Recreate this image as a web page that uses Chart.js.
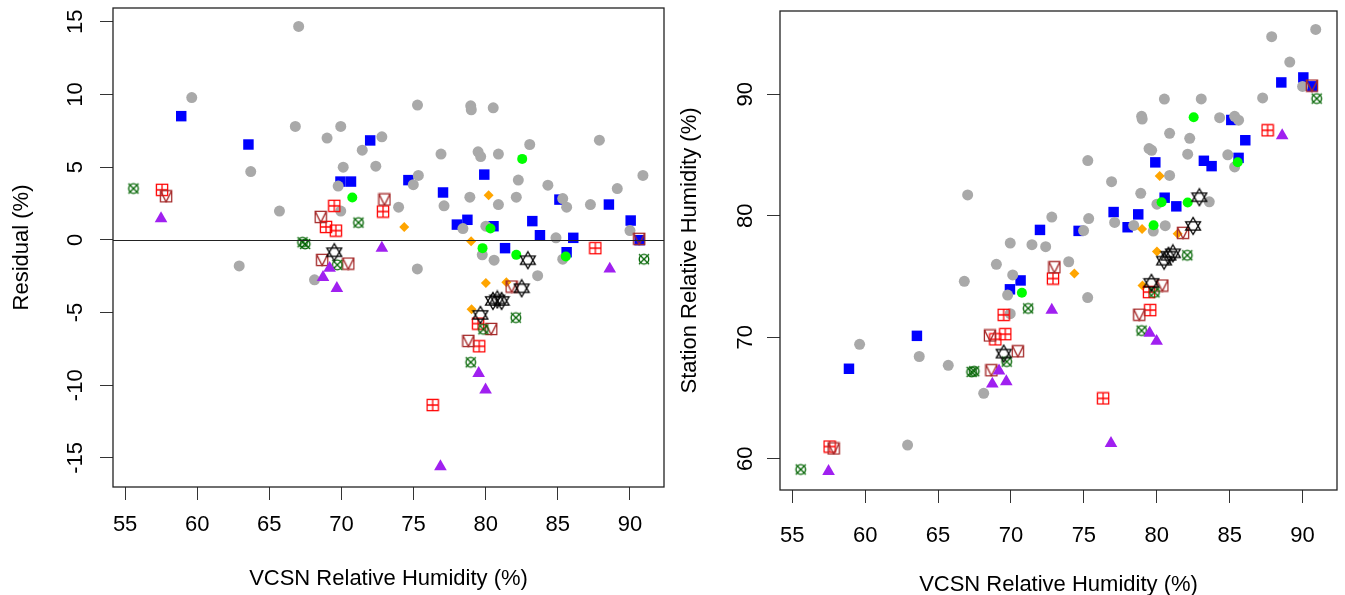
<!DOCTYPE html>
<html>
<head>
<meta charset="utf-8">
<script src="https://cdn.jsdelivr.net/npm/chart.js@4.4.0/dist/chart.umd.min.js"></script>
<style>
  html, body { margin: 0; padding: 0; background: #fff; overflow: hidden; }
  canvas { position: absolute; top: 0; }
  #left { left: 0; }
  #right { left: 672px; }
</style>
</head>
<body>
<canvas id="left" width="672" height="595"></canvas>
<canvas id="right" width="673" height="595"></canvas>
<script>
// tick labels
const xTicks = [55, 60, 65, 70, 75, 80, 85, 90];
const residTicks = [-15, -10, -5, 0, 5, 10, 15];
const stationTicks = [60, 70, 80, 90];

// grey circles
const greyVcsn = [67.03, 59.62, 66.8, 69.95, 69.0, 72.8, 71.44, 70.12, 72.38, 63.71, 69.77, 65.7, 69.95, 62.91, 68.13, 73.96,
  75.27, 75.33, 74.98, 78.96, 79.0, 80.52, 76.9, 79.47, 79.65, 80.88, 83.05, 87.88, 82.26, 84.31, 90.9, 89.12,
  78.9, 82.12, 77.11, 80.88, 85.34, 85.61, 87.26, 78.42, 80.01, 84.87, 90.0, 79.76, 80.58, 75.26, 83.6, 85.34];
const greyResid = [14.68, 9.79, 7.8, 7.8, 7.0, 7.09, 6.17, 5.0, 5.07, 4.7, 3.7, 1.98, 1.98, -1.79, -2.75, 2.25,
  9.27, 4.43, 3.8, 9.22, 8.95, 9.08, 5.9, 6.06, 5.73, 5.9, 6.56, 6.86, 4.11, 3.76, 4.43, 3.53,
  2.94, 2.94, 2.34, 2.43, 2.84, 2.25, 2.43, 0.78, 0.94, 0.14, 0.64, -1.03, -1.4, -2.0, -2.46, -1.33];
const greyStation = [81.71, 69.41, 74.6, 77.75, 76.0, 79.89, 77.61, 75.12, 77.45, 68.41, 73.47, 67.68, 71.93, 61.12, 65.38, 76.21,
  84.54, 79.76, 78.78, 88.18, 87.95, 89.6, 82.8, 85.53, 85.38, 86.78, 89.61, 94.74, 86.37, 88.07, 95.33, 92.65,
  81.84, 85.06, 79.45, 83.31, 88.18, 87.86, 89.69, 79.2, 80.95, 85.01, 90.64, 78.73, 79.18, 73.26, 81.14, 84.01];

// blue squares
const blueVcsn = [58.89, 63.55, 71.99, 69.93, 70.66, 74.64, 79.9, 77.04, 88.54, 85.11, 78.73, 78.0, 80.54, 83.23, 90.05, 83.76, 86.07, 90.67, 81.34, 85.61];
const blueResid = [8.51, 6.56, 6.84, 4.01, 4.01, 4.11, 4.49, 3.26, 2.43, 2.77, 1.38, 1.05, 0.94, 1.29, 1.33, 0.32, 0.14, -0.02, -0.57, -0.85];
const blueStation = [67.4, 70.11, 78.83, 73.94, 74.67, 78.75, 84.39, 80.3, 90.97, 87.88, 80.11, 79.05, 81.48, 84.52, 91.38, 84.08, 86.21, 90.65, 80.77, 84.76];

// green circles
const greenVcsn = [70.75, 82.53, 80.33, 79.78, 82.12, 85.55];
const greenResid = [2.91, 5.57, 0.78, -0.57, -1.03, -1.15];
const greenStation = [73.66, 88.1, 81.11, 79.21, 81.09, 84.4];

// orange diamonds
const orangeVcsn = [74.35, 80.2, 78.99, 80.01, 81.43, 79.02];
const orangeResid = [0.89, 3.07, -0.09, -2.96, -2.91, -4.77];
const orangeStation = [75.24, 83.27, 78.9, 77.05, 78.52, 74.25];

// red squares with plus
const redVcsn = [57.56, 69.5, 72.88, 68.93, 69.61, 79.47, 79.55, 76.32, 87.6];
const redResid = [3.44, 2.34, 1.95, 0.89, 0.64, -5.76, -7.32, -11.36, -0.57];
const redStation = [61.0, 71.84, 74.83, 69.82, 70.25, 73.71, 72.23, 64.96, 87.03];

// brown squares with triangle
const brownVcsn = [57.84, 68.56, 72.98, 68.66, 70.47, 81.8, 80.38, 78.8, 90.64];
const brownResid = [3.0, 1.58, 2.78, -1.38, -1.63, -3.21, -6.13, -6.95, 0.07];
const brownStation = [60.84, 70.14, 75.76, 67.28, 68.84, 78.59, 74.25, 71.85, 90.71];

// dark green circles with cross
const dkgreenVcsn = [55.58, 71.18, 67.3, 67.48, 69.71, 90.97, 82.09, 79.84, 78.96];
const dkgreenResid = [3.53, 1.19, -0.16, -0.28, -1.72, -1.33, -5.35, -6.15, -8.42];
const dkgreenStation = [59.11, 72.37, 67.14, 67.2, 67.99, 89.64, 76.74, 73.69, 70.54];

// black stars
const starVcsn = [69.5, 82.92, 82.49, 80.5, 80.8, 81.1, 79.63];
const starResid = [-0.85, -1.4, -3.33, -4.2, -4.1, -4.2, -5.16];
const starStation = [68.65, 81.52, 79.16, 76.3, 76.7, 76.9, 74.47];

// purple triangles
const purpleVcsn = [57.49, 72.8, 69.18, 68.72, 69.68, 88.6, 79.51, 79.99, 76.86];
const purpleResid = [1.47, -0.57, -1.95, -2.57, -3.33, -2.0, -9.18, -10.32, -15.6];
const purpleStation = [58.96, 72.23, 67.23, 66.15, 66.35, 86.6, 70.33, 69.67, 61.26];

const FONT = '22px "Liberation Sans", Arial, Helvetica, sans-serif';

function marker(w, h, draw) {
  const c = document.createElement('canvas');
  c.width = w; c.height = h;
  const g = c.getContext('2d');
  g.lineWidth = 1.3;
  draw(g, w / 2, h / 2);
  return c;
}

const squarePlus = marker(14, 14, (g, cx, cy) => {
  g.strokeStyle = '#ff0000';
  g.strokeRect(cx - 5.6, cy - 5.6, 11.2, 11.2);
  g.beginPath();
  g.moveTo(cx, cy - 5.6); g.lineTo(cx, cy + 5.6);
  g.moveTo(cx - 5.6, cy); g.lineTo(cx + 5.6, cy);
  g.stroke();
});

const squareTri = marker(14, 14, (g, cx, cy) => {
  g.strokeStyle = '#a52a2a';
  g.strokeRect(cx - 5.6, cy - 5.6, 11.2, 11.2);
  g.beginPath();
  g.moveTo(cx - 5.6, cy - 5.6); g.lineTo(cx, cy + 5.6); g.lineTo(cx + 5.6, cy - 5.6);
  g.stroke();
});

const circleCross = marker(14, 14, (g, cx, cy) => {
  g.strokeStyle = '#006400';
  g.beginPath();
  g.arc(cx, cy, 4.8, 0, Math.PI * 2);
  g.stroke();
  g.beginPath();
  g.moveTo(cx - 5, cy - 5); g.lineTo(cx + 5, cy + 5);
  g.moveTo(cx + 5, cy - 5); g.lineTo(cx - 5, cy + 5);
  g.stroke();
});

const davidStar = marker(18, 20, (g, cx, cy) => {
  g.strokeStyle = '#000';
  g.beginPath();
  g.moveTo(cx, cy - 8.5); g.lineTo(cx - 7.4, cy + 4.2); g.lineTo(cx + 7.4, cy + 4.2); g.closePath();
  g.moveTo(cx, cy + 8.5); g.lineTo(cx - 7.4, cy - 4.2); g.lineTo(cx + 7.4, cy - 4.2); g.closePath();
  g.stroke();
});

function pts(xs, ys) {
  return xs.map((x, i) => ({ x: x, y: ys[i] }));
}

function makeDatasets(key) {
  const list = [
    { v: purpleVcsn, r: purpleResid, s: purpleStation, style: 'triangle', radius: 7.3, color: '#a020f0' },
    { v: starVcsn, r: starResid, s: starStation, style: davidStar, radius: 8 },
    { v: dkgreenVcsn, r: dkgreenResid, s: dkgreenStation, style: circleCross, radius: 6 },
    { v: brownVcsn, r: brownResid, s: brownStation, style: squareTri, radius: 6 },
    { v: redVcsn, r: redResid, s: redStation, style: squarePlus, radius: 6 },
    { v: orangeVcsn, r: orangeResid, s: orangeStation, style: 'rectRot', radius: 5, color: '#ffa500' },
    { v: greenVcsn, r: greenResid, s: greenStation, style: 'circle', radius: 5, color: '#00ff00' },
    { v: greyVcsn, r: greyResid, s: greyStation, style: 'circle', radius: 5.5, color: '#a9a9a9' },
    { v: blueVcsn, r: blueResid, s: blueStation, style: 'rect', radius: 7.4, color: '#0000ff' }
  ];
  return list.map(d => ({
    data: pts(d.v, d[key]),
    pointStyle: d.style,
    pointRadius: d.radius,
    pointBackgroundColor: d.color || '#000',
    pointBorderWidth: 0,
    pointBorderColor: d.color || '#000'
  }));
}

const framePlugin = {
  id: 'frame',
  afterDraw(chart, args, o) {
    const { ctx, chartArea: a, scales } = chart;
    ctx.save();
    ctx.strokeStyle = '#222';
    ctx.lineWidth = 1.3;
    ctx.strokeRect(a.left, a.top, a.right - a.left, a.bottom - a.top);
    if (o.zeroLine) {
      const y0 = Math.round(scales.y.getPixelForValue(0)) + 0.5;
      ctx.lineWidth = 1.1;
      ctx.beginPath();
      ctx.moveTo(a.left, y0); ctx.lineTo(a.right, y0);
      ctx.stroke();
    }
    ctx.fillStyle = '#000';
    ctx.font = FONT;
    ctx.textAlign = 'center';
    ctx.textBaseline = 'middle';
    o.xTicks.forEach(v => ctx.fillText(String(v), scales.x.getPixelForValue(v), o.xLabelY));
    o.yTicks.forEach(v => {
      ctx.save();
      ctx.translate(o.yLabelX, scales.y.getPixelForValue(v));
      ctx.rotate(-Math.PI / 2);
      ctx.fillText(String(v), 0, 0);
      ctx.restore();
    });
    ctx.fillText(o.xTitle, (a.left + a.right) / 2, o.xTitleY);
    ctx.save();
    ctx.translate(o.yTitleX, (a.top + a.bottom) / 2);
    ctx.rotate(-Math.PI / 2);
    ctx.fillText(o.yTitle, 0, 0);
    ctx.restore();
    ctx.restore();
  }
};

function axis(min, max, ticks, size, horizontal) {
  return {
    type: 'linear',
    min: min,
    max: max,
    afterBuildTicks: s => { s.ticks = ticks.map(v => ({ value: v })); },
    afterFit: s => { if (horizontal) s.height = size; else s.width = size; },
    ticks: { display: false },
    border: { display: false },
    grid: { drawOnChartArea: false, drawTicks: true, tickLength: 13, color: '#333', lineWidth: 1 }
  };
}

function makeChart(id, key, pad, yWidth, xHeight, yMin, yMax, yTicks, frame) {
  return new Chart(document.getElementById(id), {
    type: 'scatter',
    data: { datasets: makeDatasets(key) },
    options: {
      responsive: false,
      animation: false,
      events: [],
      layout: { padding: pad },
      plugins: { legend: { display: false }, tooltip: { enabled: false }, frame: frame },
      scales: {
        x: axis(54.16, 92.36, xTicks, xHeight, true),
        y: axis(yMin, yMax, yTicks, yWidth, false)
      }
    },
    plugins: [framePlugin]
  });
}

makeChart('left', 'r', { top: 8, right: 2, left: 0, bottom: 0 }, 113, 108, -17.0, 15.95, residTicks, {
  zeroLine: true, xTicks: xTicks, yTicks: residTicks,
  xLabelY: 525, yLabelX: 76, xTitle: 'VCSN Relative Humidity (%)', xTitleY: 579,
  yTitle: 'Residual (%)', yTitleX: 22
});

makeChart('right', 's', { top: 11, right: 7, left: 0, bottom: 0 }, 108, 105, 57.42, 96.85, stationTicks, {
  zeroLine: false, xTicks: xTicks, yTicks: stationTicks,
  xLabelY: 536, yLabelX: 74, xTitle: 'VCSN Relative Humidity (%)', xTitleY: 585,
  yTitle: 'Station Relative Humidity (%)', yTitleX: 18
});
</script>
</body>
</html>
